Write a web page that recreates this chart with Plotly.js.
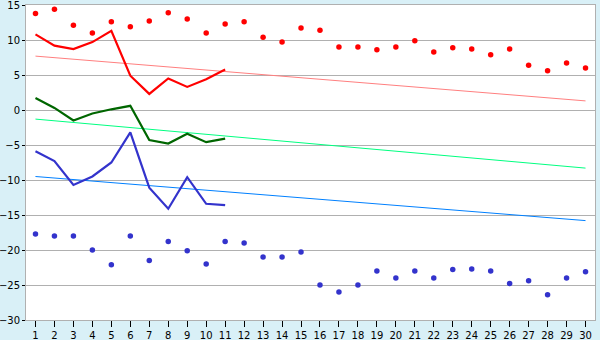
<!DOCTYPE html>
<html>
<head>
<meta charset="utf-8">
<script src="https://cdn.plot.ly/plotly-3.0.1.min.js"></script>
<style>html,body{margin:0;padding:0;background:#d9f0f7;}#chart{width:600px;height:340px;}</style>
</head>
<body>
<div id="chart"></div>
<script>
var days = [];
for (var i = 1; i <= 30; i++) days.push(i);
var lineDays = days.slice(0, 11);

var redMarks = [13.8, 14.4, 12.1, 11.0, 12.6, 11.9, 12.7, 13.9, 13.0, 11.0,
                12.3, 12.6, 10.4, 9.7, 11.7, 11.4, 9.0, 9.0, 8.6, 9.0,
                9.9, 8.3, 8.9, 8.7, 7.9, 8.7, 6.4, 5.6, 6.7, 6.0];
var blueMarks = [-17.7, -18.0, -18.0, -20.0, -22.1, -18.0, -21.5, -18.8, -20.1, -22.0,
                 -18.8, -19.0, -21.0, -21.0, -20.3, -25.0, -26.0, -25.0, -23.0, -24.0,
                 -23.0, -24.0, -22.8, -22.7, -23.0, -24.8, -24.4, -26.4, -24.0, -23.1];
var redLine = [10.8, 9.2, 8.7, 9.7, 11.3, 4.9, 2.3, 4.5, 3.3, 4.4, 5.8];
var greenLine = [1.7, 0.3, -1.5, -0.5, 0.1, 0.6, -4.3, -4.8, -3.4, -4.6, -4.1];
var blueLine = [-5.9, -7.3, -10.7, -9.5, -7.5, -3.2, -11.1, -14.1, -9.6, -13.4, -13.6];
var trendDays = [1, 30];
var redTrend = [7.7, 1.3];
var greenTrend = [-1.3, -8.3];
var blueTrend = [-9.5, -15.8];
var yTicks = [-30, -25, -20, -15, -10, -5, 0, 5, 10, 15];

var traces = [
  {x: trendDays, y: redTrend, mode: 'lines', line: {color: '#ff7f7f', width: 1}},
  {x: trendDays, y: greenTrend, mode: 'lines', line: {color: '#00ff80', width: 1}},
  {x: trendDays, y: blueTrend, mode: 'lines', line: {color: '#0080ff', width: 1}},
  {x: lineDays, y: redLine, mode: 'lines', line: {color: '#ff0000', width: 2.2}},
  {x: lineDays, y: greenLine, mode: 'lines', line: {color: '#006600', width: 2.2}},
  {x: lineDays, y: blueLine, mode: 'lines', line: {color: '#3333cc', width: 2.2}},
  {x: days, y: redMarks, mode: 'markers', marker: {symbol: 'circle', size: 5.5, color: '#ff0000', line: {width: 0}}},
  {x: days, y: blueMarks, mode: 'markers', marker: {symbol: 'circle', size: 5.5, color: '#3333cc', line: {width: 0}}}
];

var layout = {
  width: 600, height: 340,
  margin: {l: 26, r: 5, t: 5, b: 20, pad: 0},
  paper_bgcolor: '#d9f0f7',
  plot_bgcolor: '#ffffff',
  showlegend: false,
  font: {family: 'DejaVu Sans, Verdana, sans-serif', size: 10, color: '#000000'},
  xaxis: {
    range: [0.5, 30.5], tickvals: days, ticktext: days.map(String),
    showgrid: false, zeroline: false,
    ticks: 'outside', ticklen: 6, tickcolor: '#000000', tickwidth: 1,
    showline: true, linecolor: '#b0b0b0', linewidth: 1, mirror: true,
    fixedrange: true
  },
  yaxis: {
    range: [-30, 15.001], tickvals: yTicks,
    showgrid: true, gridcolor: '#b0b0b0', gridwidth: 1, zeroline: false,
    ticks: 'outside', ticklen: 3, tickcolor: '#000000', tickwidth: 1,
    showline: true, linecolor: '#b0b0b0', linewidth: 1, mirror: true,
    ticklabeloverflow: 'allow',
    fixedrange: true
  }
};

Plotly.newPlot('chart', traces, layout, {displayModeBar: false, staticPlot: true});
</script>
</body>
</html>
